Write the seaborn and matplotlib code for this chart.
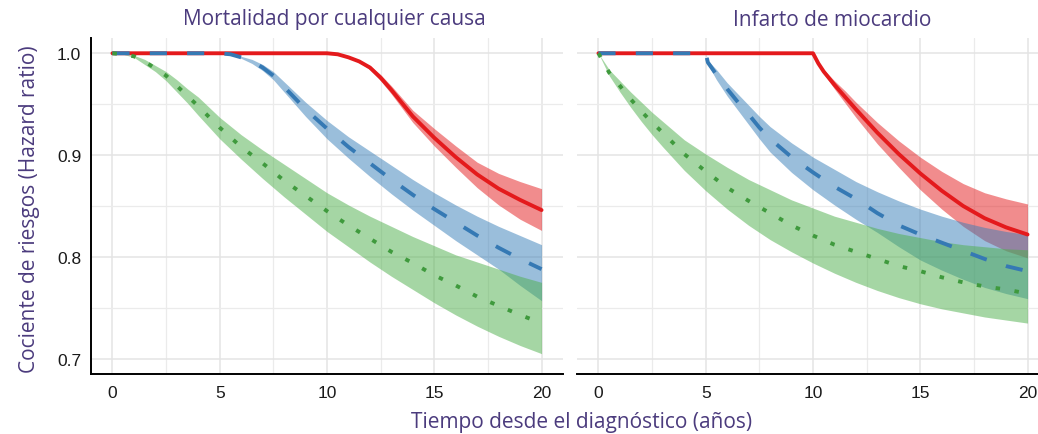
import numpy as np
import pandas as pd
import matplotlib
matplotlib.use("Agg")
import matplotlib.pyplot as plt
import seaborn as sns

# ---------------- data ----------------
panel_titles = ["Mortalidad por cualquier causa", "Infarto de miocardio"]
series_names = ["rojo", "azul", "verde"]
x_ticks = [0, 5, 10, 15, 20]
y_ticks = [0.7, 0.8, 0.9, 1.0]
y_tick_labels = ["0.7", "0.8", "0.9", "1.0"]

# Left panel: Mortalidad por cualquier causa
t_red_L = [0, 10, 10.5, 11, 11.5, 12, 12.5, 13, 13.5, 14, 15, 16, 17, 18, 19, 20]
hr_red_L = [1.0, 1.0, 0.999, 0.996, 0.992, 0.986, 0.976, 0.964, 0.951, 0.938, 0.917, 0.898, 0.881, 0.867, 0.856, 0.846]
lo_red_L = [1.0, 1.0, 0.999, 0.996, 0.991, 0.984, 0.973, 0.960, 0.946, 0.932, 0.909, 0.888, 0.868, 0.851, 0.837, 0.826]
hi_red_L = [1.0, 1.0, 0.999, 0.996, 0.993, 0.988, 0.979, 0.968, 0.956, 0.944, 0.926, 0.909, 0.893, 0.882, 0.874, 0.867]

t_blue_L = [0, 5, 5.5, 6, 6.5, 7, 7.5, 8, 8.5, 9, 10, 11, 12, 13, 14, 15, 16, 17, 18, 19, 20]
hr_blue_L = [1.0, 1.0, 0.999, 0.996, 0.992, 0.986, 0.978, 0.967, 0.956, 0.945, 0.926, 0.908, 0.892, 0.876, 0.861, 0.847, 0.834, 0.821, 0.809, 0.798, 0.788]
lo_blue_L = [1.0, 1.0, 0.999, 0.995, 0.990, 0.983, 0.974, 0.962, 0.950, 0.938, 0.916, 0.897, 0.879, 0.862, 0.846, 0.831, 0.816, 0.802, 0.788, 0.772, 0.757]
hi_blue_L = [1.0, 1.0, 0.999, 0.997, 0.994, 0.989, 0.982, 0.972, 0.962, 0.952, 0.934, 0.918, 0.904, 0.890, 0.876, 0.863, 0.851, 0.840, 0.830, 0.821, 0.812]

t_green_L = [0, 0.5, 1, 1.5, 2, 2.5, 3, 3.5, 4, 5, 6, 7, 8, 9, 10, 11, 12, 13, 14, 15, 16, 17, 18, 19, 20]
hr_green_L = [1.0, 0.999, 0.997, 0.992, 0.985, 0.978, 0.968, 0.958, 0.948, 0.927, 0.908, 0.892, 0.875, 0.860, 0.845,
              0.831, 0.818, 0.805, 0.794, 0.782, 0.772, 0.761, 0.752, 0.743, 0.735]
lo_green_L = [1.0, 0.999, 0.996, 0.989, 0.982, 0.973, 0.962, 0.951, 0.939, 0.916, 0.896, 0.877, 0.859, 0.842, 0.825,
              0.810, 0.795, 0.781, 0.768, 0.755, 0.743, 0.732, 0.722, 0.713, 0.705]
hi_green_L = [1.0, 0.999, 0.998, 0.994, 0.988, 0.982, 0.974, 0.965, 0.957, 0.937, 0.920, 0.905, 0.891, 0.877, 0.863,
              0.851, 0.840, 0.830, 0.820, 0.811, 0.802, 0.795, 0.788, 0.781, 0.775]

# Right panel: Infarto de miocardio
t_red_R = [0, 10, 10.25, 10.5, 11, 11.5, 12, 13, 14, 15, 16, 17, 18, 19, 20]
hr_red_R = [1.0, 1.0, 0.990, 0.982, 0.969, 0.957, 0.945, 0.922, 0.901, 0.882, 0.865, 0.850, 0.838, 0.829, 0.822]
lo_red_R = [1.0, 1.0, 0.989, 0.980, 0.965, 0.951, 0.937, 0.911, 0.888, 0.866, 0.847, 0.830, 0.816, 0.806, 0.799]
hi_red_R = [1.0, 1.0, 0.991, 0.984, 0.973, 0.963, 0.952, 0.932, 0.914, 0.898, 0.884, 0.872, 0.863, 0.857, 0.852]

t_blue_R = [0, 5, 5.1, 5.5, 6, 6.5, 7, 7.5, 8, 9, 10, 11, 12, 13, 14, 15, 16, 17, 18, 19, 20]
hr_blue_R = [1.0, 1.0, 0.991, 0.979, 0.965, 0.952, 0.940, 0.927, 0.916, 0.898, 0.883, 0.869, 0.857, 0.843, 0.831,
             0.822, 0.814, 0.806, 0.798, 0.791, 0.786]
lo_blue_R = [1.0, 1.0, 0.989, 0.974, 0.958, 0.944, 0.930, 0.916, 0.903, 0.883, 0.866, 0.851, 0.837, 0.824, 0.810,
             0.797, 0.787, 0.778, 0.770, 0.764, 0.759]
hi_blue_R = [1.0, 1.0, 0.993, 0.984, 0.971, 0.960, 0.949, 0.938, 0.928, 0.912, 0.898, 0.886, 0.874, 0.864, 0.855,
             0.847, 0.840, 0.834, 0.829, 0.825, 0.822]

t_green_R = [0, 0.5, 1, 1.5, 2, 2.5, 3, 4, 5, 6, 7, 8, 9, 10, 11, 12, 13, 14, 15, 16, 17, 18, 19, 20]
hr_green_R = [1.0, 0.981, 0.968, 0.955, 0.943, 0.932, 0.922, 0.901, 0.884, 0.868, 0.855, 0.843, 0.831, 0.821,
              0.812, 0.805, 0.798, 0.791, 0.786, 0.780, 0.775, 0.771, 0.768, 0.764]
lo_green_R = [1.0, 0.978, 0.962, 0.947, 0.933, 0.920, 0.908, 0.885, 0.865, 0.847, 0.831, 0.817, 0.805, 0.794,
              0.784, 0.775, 0.767, 0.760, 0.754, 0.749, 0.745, 0.741, 0.738, 0.735]
hi_green_R = [1.0, 0.984, 0.973, 0.962, 0.952, 0.942, 0.933, 0.915, 0.901, 0.888, 0.876, 0.866, 0.856, 0.848,
              0.840, 0.834, 0.828, 0.823, 0.819, 0.815, 0.812, 0.810, 0.808, 0.807]

# ---------------- style ----------------
sns.set_style("white")
plt.rcParams["font.family"] = ["Liberation Sans", "DejaVu Sans"]

PURPLE = "#4b3b7d"
BAND_COLORS = {"rojo": "#e41a1c", "azul": "#377eb8", "verde": "#4daf4a"}
LINE_COLORS = {"rojo": "#e41a1c", "azul": "#3579b4", "verde": "#3f9a3d"}
DASHES = {"rojo": "", "azul": (4.4, 5.2), "verde": (1.15, 3.75)}
TITLE_FONT = ["Open Sans", "DejaVu Sans"]
LINE_W = 2.8

W, H = 1038, 435
fig = plt.figure(figsize=(W / 100, H / 100), dpi=100)
axL = fig.add_axes([91 / W, 60 / H, 472 / W, 336 / H])
axR = fig.add_axes([577 / W, 60 / H, 472 / W, 336 / H])

panels = [
    (axL, [(t_red_L, hr_red_L, lo_red_L, hi_red_L),
           (t_blue_L, hr_blue_L, lo_blue_L, hi_blue_L),
           (t_green_L, hr_green_L, lo_green_L, hi_green_L)]),
    (axR, [(t_red_R, hr_red_R, lo_red_R, hi_red_R),
           (t_blue_R, hr_blue_R, lo_blue_R, hi_blue_R),
           (t_green_R, hr_green_R, lo_green_R, hi_green_R)]),
]

for ax, series in panels:
    ax.set_facecolor("white")
    # bands
    for name, (t, hr, lo, hi) in zip(series_names, series):
        ax.fill_between(t, lo, hi, color=BAND_COLORS[name], alpha=0.5, linewidth=0, zorder=2)
    # lines
    frames = []
    for name, (t, hr, lo, hi) in zip(series_names, series):
        frames.append(pd.DataFrame({"t": t, "hr": hr, "serie": name}))
    df = pd.concat(frames, ignore_index=True)
    sns.lineplot(data=df, x="t", y="hr", hue="serie", style="serie",
                 hue_order=series_names, style_order=series_names,
                 palette=LINE_COLORS, dashes=DASHES, estimator=None, sort=True,
                 linewidth=LINE_W, legend=False, ax=ax, zorder=3)

    ax.set_xlim(-1, 21)
    ax.set_ylim(0.685, 1.015)
    ax.set_xticks(x_ticks)
    ax.set_xticks([2.5, 7.5, 12.5, 17.5], minor=True)
    ax.set_yticks(y_ticks)
    ax.set_yticks([0.75, 0.85, 0.95], minor=True)
    ax.set_xticklabels([str(v) for v in x_ticks], fontsize=12.5, color="#1a1a1a")
    ax.grid(which="major", color="#e4e4e4", linewidth=1.1)
    ax.grid(which="minor", color="#ebebeb", linewidth=0.9)
    ax.set_axisbelow(True)
    ax.set_xlabel("")
    ax.set_ylabel("")
    for s in ["top", "right"]:
        ax.spines[s].set_visible(False)
    ax.spines["bottom"].set_color("black")
    ax.spines["bottom"].set_linewidth(1.4)
    ax.tick_params(axis="x", which="major", direction="out", length=4, width=1.2,
                   color="black", pad=4)
    ax.tick_params(which="minor", length=0)

axL.spines["left"].set_color("black")
axL.spines["left"].set_linewidth(1.4)
axL.set_yticklabels(y_tick_labels, fontsize=12.5, color="#1a1a1a")
axL.tick_params(axis="y", which="major", direction="out", length=4, width=1.2, color="black", pad=3)
axR.spines["left"].set_visible(False)
axR.tick_params(axis="y", which="both", left=False, labelleft=False)

# titles and axis labels
fig.text(334 / W, 1 - 20 / H, panel_titles[0], ha="center", va="center",
         fontsize=15, color=PURPLE, family=TITLE_FONT)
fig.text(832 / W, 1 - 20 / H, panel_titles[1], ha="center", va="center",
         fontsize=15, color=PURPLE, family=TITLE_FONT)
fig.text(30 / W, 1 - 209 / H, "Cociente de riesgos (Hazard ratio)", ha="center", va="center",
         rotation=90, fontsize=15, color=PURPLE, family=TITLE_FONT)
fig.text(582 / W, 1 - 423 / H, "Tiempo desde el diagnóstico (años)", ha="center", va="center",
         fontsize=15, color=PURPLE, family=TITLE_FONT)

fig.savefig("out.png", dpi=100, facecolor="white")
